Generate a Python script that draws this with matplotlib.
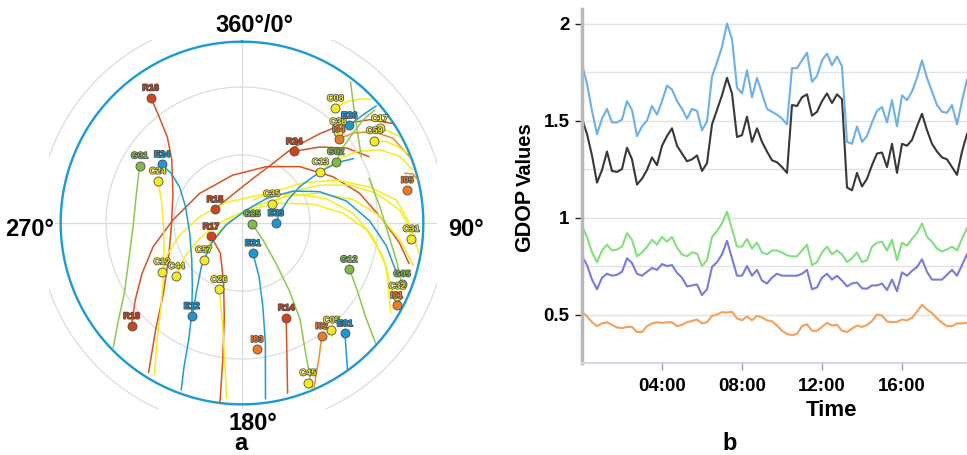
import numpy as np
import matplotlib
matplotlib.use("Agg")
import matplotlib.pyplot as plt
import matplotlib.patheffects as pe
from matplotlib.transforms import Bbox, TransformedBbox

plt.rcParams['font.family'] = ['Liberation Sans', 'DejaVu Sans']

# ---------------- Panel a: sky plot data (azimuth deg, elevation deg) ----------------
R16_az = [324, 322, 319, 312, 293, 267, 243, 228, 219, 212]
R16_el = [21.6, 30.7, 39.8, 48.3, 56.9, 58.8, 53.5, 43.3, 29.5, 12.2]
R15_az = [297, 343, 14, 27.5, 34, 41, 45.6, 51, 56.6]
R15_el = [76.6, 76.7, 69.7, 60.3, 50.1, 37.9, 27.6, 17.6, 10.2]
R24_az = [36, 45.6, 54.4, 62.4]
R24_el = [50.9, 42.1, 33.2, 26.8]
R17_az = [246.7, 215.5, 197, 190.7, 188, 187]
R17_el = [75.1, 73.6, 62.2, 47.9, 29.0, 10.0]
R18_az = [227, 234, 243, 255, 272.5, 305, 349, 23.4, 45.7, 63, 75.8, 88.8, 97.3, 103.6]
R18_el = [23.4, 31.7, 40.4, 49.4, 59.5, 67.2, 68.5, 62.9, 54.4, 45.0, 36.5, 27.8, 19.9, 14.2]
R14_az = [155, 161, 165]
R14_el = [43.9, 29.2, 12.3]

I04_az = [49, 51, 55, 60.7, 68.4]
I04_el = [33.6, 27.0, 19.5, 13.6, 10.5]
I05_az = [73, 74, 76.3]
I05_el = [15.0, 11.5, 10.1]
I02_az = [144.8, 150, 153.7, 156.5]
I02_el = [29.0, 21.9, 16.0, 10.4]

C24_az = [296.5, 286, 267, 249, 234, 223, 216, 210]
C24_el = [48.4, 53.0, 55.4, 53.2, 47.0, 37.4, 26.3, 12.7]
C12_az = [238.7, 247.7, 259, 278.5, 323, 32, 60, 74, 85, 96, 107, 121]
C12_el = [48.7, 54.7, 62.0, 71.1, 78.6, 75.4, 64.0, 51.2, 40.8, 31.9, 23.5, 13.4]
C44_az = [231, 239.6, 250, 271, 18, 62, 75, 84.5, 93, 103.4, 116]
C44_el = [52.8, 60.7, 70.1, 80.1, 84.0, 71.3, 57.6, 45.2, 35.1, 26.0, 15.2]
C57_az = [226, 238, 269, 34, 59, 69, 78, 87, 96, 104]
C57_el = [66.6, 73.1, 83.1, 81.3, 67.3, 53.3, 40.0, 29.2, 20.0, 12.1]
C35_az = [57, 58, 64, 70.6, 77.5, 85.3, 93.5, 99.7]
C35_el = [74.4, 63.6, 51.9, 39.6, 29.3, 20.2, 14.4, 10.8]
C31_az = [95.3, 89, 81.5, 74.3, 65.6, 56.6, 42.7, 25.6]
C31_el = [15.0, 16.8, 21.2, 31.5, 44.1, 57.9, 72.0, 78.8]
C08_az = [39, 40.7, 43.5, 46.2]
C08_el = [24.8, 19.4, 14.6, 11.0]
C17_az = [55.5, 58.3, 61.3]
C17_el = [16.3, 13.4, 10.7]
C59_az = [58, 60.6, 63.9, 67]
C59_el = [21.2, 16.9, 13.4, 11.0]
C13_az = [56.8, 56.3, 58, 62, 67, 72.8]
C13_el = [48.7, 40.0, 30.5, 21.2, 14.5, 11.0]
C26_az = [199, 192, 188, 185]
C26_el = [59.0, 47.7, 33.4, 12.3]
C45_az = [157.6, 158]
C45_el = [13.8, 10.6]
C05_az = [140, 141.6]
C05_el = [28.5, 26.0]

G31_az = [299, 286, 268, 252, 239, 232, 226]
G31_el = [38.3, 41.6, 41.9, 37.5, 29.4, 20.9, 11.0]
G25_az = [94, 129, 140, 145, 149, 154, 157]
G25_el = [85.6, 78.1, 66.6, 53.7, 40.2, 25.9, 10.9]
G12_az = [113, 120, 127, 132]
G12_el = [38.6, 31.5, 21.9, 10.7]
G05_az = [111, 103.5, 94, 83, 70.6]
G05_el = [14.5, 20.0, 25.4, 28.8, 30.6]
G02_az = [57, 53, 51, 49.6, 49.6]
G02_el = [40.6, 34.1, 27.0, 19.9, 13.1]
G10_az = [37.5, 43, 50, 61]
G10_el = [11.4, 18.0, 24.0, 29.8]

E24_az = [306, 305, 300, 286, 259, 234, 218, 209, 204.5, 202, 200]
E24_el = [46.2, 51.9, 58.2, 64.1, 66.5, 62.6, 54.4, 44.3, 33.3, 21.8, 11.6]
E12_az = [208, 213, 223, 236.5, 263, 18, 45, 58, 68, 78, 89, 99, 109]
E12_el = [43.4, 52.8, 63.7, 73.8, 83.0, 84.0, 74.7, 63.4, 53.1, 43.0, 33.7, 25.5, 17.2]
E33_az = [90, 75.6, 63.4, 57.8, 57, 57, 58, 60]
E33_el = [75.1, 72.8, 67.3, 59.9, 52.6, 45.7, 39.1, 33.2]
E31_az = [160, 162.4, 166, 169, 172.4]
E31_el = [75.9, 65.2, 51.9, 36.0, 11.7]
E01_az = [137, 141.3, 144.4]
E01_el = [23.4, 16.4, 10.0]
E26_az = [47.7, 48.2, 48.9]
E26_el = [26.0, 18.4, 11.4]

# current satellite positions (markers)
sat_names = ['R16', 'G31', 'E24', 'C24', 'R15', 'R17', 'C35', 'G25', 'E33', 'E31',
             'C57', 'C12', 'C44', 'C26', 'E12', 'R18', 'I03', 'R14', 'C45', 'I02',
             'C05', 'E01', 'G12', 'G05', 'I01', 'C32', 'C31', 'I05', 'C13', 'G02',
             'R24', 'C38', 'I04', 'E26', 'C08', 'C17', 'C59']
sat_az = [323.9, 299.3, 306.3, 296.5, 296.8, 246.7, 56.9, 93.8, 90.0, 159.9,
          226.3, 238.7, 231.1, 199.1, 208.4, 227.0, 173.2, 154.9, 157.6, 144.8,
          140.1, 137.0, 113.4, 110.8, 118.0, 115.2, 95.3, 78.7, 56.8, 56.8,
          36.1, 46.4, 49.1, 47.7, 39.1, 55.5, 58.1]
sat_el = [21.6, 38.2, 46.2, 48.4, 76.6, 75.1, 74.4, 85.6, 75.1, 75.9,
          66.6, 48.7, 52.8, 59.0, 43.4, 23.4, 33.9, 43.9, 13.8, 29.0,
          28.5, 23.4, 38.6, 14.5, 12.7, 14.4, 15.0, 15.7, 48.7, 40.6,
          50.9, 31.5, 33.6, 26.0, 24.7, 16.3, 21.2]

elev_mask = 10
compass_labels = ['360°/0°', '90°', '180°', '270°']

# ---------------- Panel b: GDOP time series ----------------
time_h = np.arange(78) * 0.25
gdop_blue = [1.79, 1.69, 1.55, 1.43, 1.51, 1.56, 1.49, 1.49, 1.505, 1.60,
             1.555, 1.42, 1.47, 1.50, 1.575, 1.53, 1.60, 1.68, 1.66, 1.60,
             1.56, 1.51, 1.56, 1.55, 1.45, 1.495, 1.726, 1.80, 1.88, 2.00,
             1.92, 1.67, 1.64, 1.76, 1.62, 1.72, 1.64, 1.56, 1.545, 1.53,
             1.51, 1.48, 1.77, 1.77, 1.81, 1.85, 1.70, 1.73, 1.81, 1.845,
             1.785, 1.83, 1.78, 1.39, 1.38, 1.47, 1.39, 1.42, 1.49, 1.55,
             1.57, 1.49, 1.605, 1.47, 1.63, 1.605, 1.65, 1.72, 1.81, 1.72,
             1.65, 1.58, 1.545, 1.54, 1.58, 1.48, 1.60, 1.71]
gdop_black = [1.51, 1.43, 1.32, 1.18, 1.245, 1.34, 1.24, 1.235, 1.25, 1.36,
              1.30, 1.17, 1.20, 1.245, 1.31, 1.27, 1.37, 1.42, 1.46, 1.37,
              1.33, 1.29, 1.30, 1.32, 1.24, 1.28, 1.48, 1.555, 1.63, 1.72,
              1.64, 1.415, 1.425, 1.52, 1.39, 1.46, 1.39, 1.34, 1.295, 1.285,
              1.26, 1.23, 1.58, 1.575, 1.62, 1.635, 1.525, 1.545, 1.60, 1.64,
              1.59, 1.635, 1.61, 1.155, 1.14, 1.23, 1.16, 1.20, 1.27, 1.33,
              1.335, 1.26, 1.38, 1.23, 1.38, 1.37, 1.40, 1.47, 1.535, 1.45,
              1.38, 1.34, 1.31, 1.30, 1.26, 1.22, 1.34, 1.43]
gdop_green = [0.955, 0.90, 0.82, 0.77, 0.83, 0.86, 0.83, 0.835, 0.85, 0.92,
              0.885, 0.80, 0.82, 0.85, 0.885, 0.86, 0.90, 0.875, 0.90, 0.845,
              0.81, 0.80, 0.82, 0.815, 0.75, 0.78, 0.90, 0.93, 0.97, 1.03,
              0.94, 0.85, 0.85, 0.89, 0.84, 0.87, 0.82, 0.81, 0.83, 0.83,
              0.82, 0.805, 0.80, 0.80, 0.83, 0.86, 0.755, 0.77, 0.82, 0.85,
              0.81, 0.83, 0.81, 0.77, 0.79, 0.82, 0.77, 0.78, 0.85, 0.87,
              0.875, 0.83, 0.885, 0.78, 0.87, 0.855, 0.89, 0.92, 0.97, 0.90,
              0.875, 0.84, 0.825, 0.835, 0.85, 0.83, 0.89, 0.945]
gdop_purple = [0.80, 0.755, 0.68, 0.63, 0.69, 0.71, 0.70, 0.705, 0.72, 0.79,
               0.765, 0.71, 0.70, 0.72, 0.74, 0.73, 0.76, 0.75, 0.755, 0.715,
               0.69, 0.645, 0.65, 0.655, 0.60, 0.63, 0.745, 0.77, 0.81, 0.88,
               0.79, 0.70, 0.70, 0.75, 0.70, 0.73, 0.675, 0.66, 0.69, 0.71,
               0.70, 0.70, 0.70, 0.70, 0.71, 0.73, 0.63, 0.64, 0.69, 0.71,
               0.68, 0.70, 0.675, 0.645, 0.66, 0.665, 0.635, 0.633, 0.65, 0.65,
               0.66, 0.626, 0.68, 0.62, 0.717, 0.70, 0.725, 0.745, 0.785, 0.72,
               0.68, 0.68, 0.68, 0.705, 0.73, 0.70, 0.755, 0.81]
gdop_orange = [0.514, 0.49, 0.46, 0.44, 0.454, 0.46, 0.447, 0.433, 0.43, 0.436,
               0.436, 0.41, 0.41, 0.44, 0.454, 0.46, 0.457, 0.46, 0.46, 0.44,
               0.447, 0.46, 0.467, 0.474, 0.454, 0.46, 0.493, 0.50, 0.512, 0.51,
               0.514, 0.48, 0.47, 0.49, 0.47, 0.493, 0.485, 0.47, 0.465, 0.443,
               0.416, 0.40, 0.393, 0.40, 0.44, 0.45, 0.416, 0.416, 0.436, 0.457,
               0.443, 0.447, 0.416, 0.41, 0.428, 0.443, 0.436, 0.445, 0.467, 0.50,
               0.495, 0.464, 0.46, 0.462, 0.474, 0.47, 0.483, 0.514, 0.55, 0.526,
               0.507, 0.48, 0.457, 0.44, 0.44, 0.454, 0.454, 0.457]
x_ticks = [4, 8, 12, 16]
x_tick_labels = ['04:00', '08:00', '12:00', '16:00']
y_ticks = [0.5, 1, 1.5, 2]
y_tick_labels = ['0.5', '1', '1.5', '2']

# ---------------- figure ----------------
W, H = 967, 455
fig = plt.figure(figsize=(W / 100, H / 100), dpi=100)
fig.patch.set_facecolor('white')

def fx(p):
    return p / W

def fy(p):
    return 1 - p / H

line_col = {'R': '#d9531e', 'I': '#f28a2e', 'C': '#f5ee1c', 'G': '#8cc84b', 'E': '#1e9cd8'}
mark_col = {'R': '#d1441a', 'I': '#f27a1e', 'C': '#f6ec1a', 'G': '#7cbf40', 'E': '#1a98d6'}

axp = fig.add_axes([fx(38), fy(427), 408 / W, 408 / H], projection='polar')
axp.set_theta_zero_location('N')
axp.set_theta_direction(-1)
axp.set_ylim(0, 90)
axp.set_xticks([])
axp.set_yticks([])
axp.grid(False)
axp.spines['polar'].set_visible(False)

clip = TransformedBbox(Bbox.from_extents(fx(49), fy(409), fx(437), fy(40)), fig.transFigure)
th = np.linspace(0, 2 * np.pi, 361)
for rr in (30, 60):
    axp.plot(th, np.full_like(th, rr), color='#dcdcdc', lw=0.9, zorder=1)
outer, = axp.plot(th, np.full_like(th, 90), color='#dcdcdc', lw=0.9, zorder=1)
outer.set_clip_path(None)
outer.set_clip_box(clip)
for a in (0, 90, 180, 270):
    sp, = axp.plot([np.radians(a)] * 2, [0, 90], color='#dcdcdc', lw=0.9, zorder=1)
    sp.set_clip_path(None)
    sp.set_clip_box(clip)
axp.plot(th, np.full_like(th, 90 - elev_mask), color='#1a9ad8', lw=1.7, zorder=2)

tracks = [
    ('R16', R16_az, R16_el), ('R15', R15_az, R15_el), ('R24', R24_az, R24_el),
    ('R17', R17_az, R17_el), ('R18', R18_az, R18_el), ('R14', R14_az, R14_el),
    ('I04', I04_az, I04_el), ('I05', I05_az, I05_el), ('I02', I02_az, I02_el),
    ('C24', C24_az, C24_el), ('C12', C12_az, C12_el), ('C44', C44_az, C44_el),
    ('C57', C57_az, C57_el), ('C35', C35_az, C35_el), ('C31', C31_az, C31_el),
    ('C08', C08_az, C08_el), ('C17', C17_az, C17_el), ('C59', C59_az, C59_el),
    ('C13', C13_az, C13_el), ('C26', C26_az, C26_el), ('C45', C45_az, C45_el),
    ('C05', C05_az, C05_el),
    ('G31', G31_az, G31_el), ('G25', G25_az, G25_el), ('G12', G12_az, G12_el),
    ('G05', G05_az, G05_el), ('G02', G02_az, G02_el), ('G10', G10_az, G10_el),
    ('E24', E24_az, E24_el), ('E12', E12_az, E12_el), ('E33', E33_az, E33_el),
    ('E31', E31_az, E31_el), ('E01', E01_az, E01_el), ('E26', E26_az, E26_el),
]
for name, az, el in tracks:
    axp.plot(np.radians(az), 90 - np.asarray(el), color=line_col[name[0]], lw=1.1,
             zorder=3, solid_capstyle='round', solid_joinstyle='round')

for name, az, el in zip(sat_names, sat_az, sat_el):
    c = mark_col[name[0]]
    t, r = np.radians(az), 90 - el
    axp.plot([t], [r], 'o', ms=6.5, mfc=c, mec='#505050', mew=0.6, zorder=5)
    axp.annotate(name, (t, r), xytext=(0, 7), textcoords='offset points',
                 ha='center', va='center', fontsize=6.5, fontweight='bold', color=c,
                 path_effects=[pe.withStroke(linewidth=1.1, foreground='#4a4a4a')],
                 zorder=6)

lab_kw = dict(fontsize=17, fontweight='bold', ha='center', va='center')
fig.text(fx(254), fy(25), compass_labels[0], **lab_kw)
fig.text(fx(466), fy(230), compass_labels[1], **lab_kw)
fig.text(fx(253), fy(423), compass_labels[2], **lab_kw)
fig.text(fx(30), fy(230), compass_labels[3],
         bbox=dict(facecolor='white', edgecolor='none', pad=0.5), **lab_kw)
fig.text(fx(241), fy(444), 'a', fontsize=17, fontweight='bold', ha='center', va='center')

# ---------------- panel b ----------------
axr = fig.add_axes([fx(582), fy(363), fx(967) - fx(582), (363 - 9) / H])
axr.plot(time_h, gdop_orange, color='#f7a05a', lw=1.5)
axr.plot(time_h, gdop_purple, color='#7a7ae6', lw=1.5)
axr.plot(time_h, gdop_green, color='#82e07e', lw=1.5)
axr.plot(time_h, gdop_black, color='#383838', lw=1.5)
axr.plot(time_h, gdop_blue, color='#6cb0ec', lw=1.5)
axr.set_xlim(0, 19.25)
axr.set_ylim(0.25, 2.075)
axr.set_yticks(y_ticks)
axr.set_yticklabels(y_tick_labels)
axr.set_yticks([0.75, 1.25, 1.75], minor=True)
axr.set_xticks(x_ticks)
axr.set_xticklabels(x_tick_labels)
axr.grid(axis='y', which='both', color='#e3e3e3', lw=1)
axr.set_axisbelow(True)
for s in ('top', 'right'):
    axr.spines[s].set_visible(False)
axr.spines['left'].set_color('#b8b8b8')
axr.spines['left'].set_linewidth(2.5)
axr.spines['bottom'].set_color('#d0d8ea')
axr.spines['bottom'].set_linewidth(1.5)
axr.tick_params(axis='y', which='major', length=5, width=1, color='#222222', pad=4,
                labelsize=13.5)
axr.tick_params(axis='y', which='minor', length=0)
axr.tick_params(axis='x', length=5, width=1, color='#9aa0aa', pad=6, labelsize=13.5)
for lbl in axr.get_xticklabels() + axr.get_yticklabels():
    lbl.set_fontweight('bold')

fig.text(fx(525), fy(252), 'GDOP', rotation=90, ha='center', va='bottom',
         fontsize=15.5, fontweight='bold')
fig.text(fx(525), fy(122), 'Values', rotation=90, ha='center', va='top',
         fontsize=14.5, fontweight='bold')
fig.text(fx(832), fy(410), 'Time', ha='center', va='center', fontsize=16, fontweight='bold')
fig.text(fx(730), fy(444), 'b', fontsize=17, fontweight='bold', ha='center', va='center')

fig.savefig('out.png', dpi=100, facecolor='white')
